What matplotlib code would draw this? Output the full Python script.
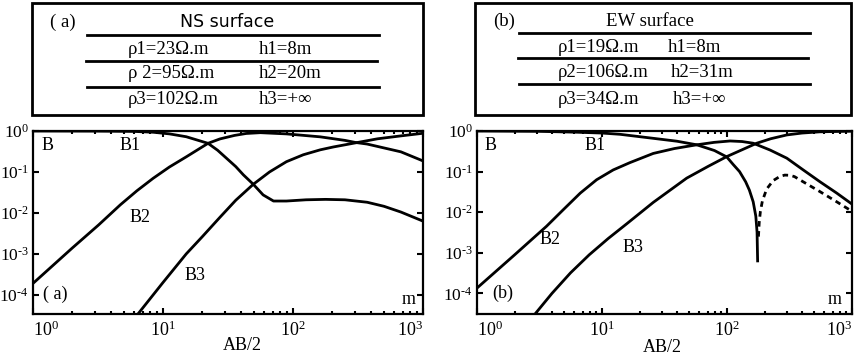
import matplotlib
matplotlib.use("Agg")
import matplotlib.pyplot as plt
from matplotlib.patches import Rectangle

plt.rcParams['font.family'] = ['Liberation Serif', 'DejaVu Serif']
plt.rcParams['mathtext.fontset'] = 'custom'
plt.rcParams['mathtext.rm'] = 'Liberation Serif'
plt.rcParams['mathtext.it'] = 'Liberation Serif:italic'

# ---------------- data ----------------
x_ticks = [1, 10, 100, 1000]
x_ticklabels = [r'$\mathrm{10^{0}}$', r'$\mathrm{10^{1}}$', r'$\mathrm{10^{2}}$', r'$\mathrm{10^{3}}$']
y_ticks = [1, 1e-1, 1e-2, 1e-3, 1e-4]
y_ticklabels = [r'$\mathrm{10^{0}}$', '$\\mathrm{10^{\u2010 1}}$', '$\\mathrm{10^{\u2010 2}}$',
                '$\\mathrm{10^{\u2010 3}}$', '$\\mathrm{10^{\u2010 4}}$']

# (a) NS surface
a_B1_x = [1, 3.16, 6.0, 8.4, 11.2, 15.1, 22.2, 26.3, 30.9, 36.3, 41.5, 49.5, 58.9, 70.8,
          89, 126, 178, 251, 372, 501, 676, 1000]
a_B1_y = [1.0, 0.993, 0.977, 0.933, 0.851, 0.724, 0.50, 0.339, 0.214, 0.135, 0.0851, 0.050,
          0.0275, 0.0195, 0.0195, 0.0209, 0.0214, 0.0209, 0.0182, 0.0145, 0.0105, 0.0063]
a_B2_x = [1, 2, 3.2, 4.7, 6.3, 8.4, 11.2, 15.1, 22.2, 27.4, 35.5, 43.6, 56, 89, 162, 251,
          302, 372, 676, 1000]
a_B2_y = [1.9e-4, 1.38e-3, 5.1e-3, 0.0158, 0.0347, 0.070, 0.132, 0.234, 0.50, 0.64, 0.78,
          0.87, 0.91, 0.85, 0.72, 0.59, 0.525, 0.48, 0.31, 0.186]
a_B3_x = [6.0, 10, 15.1, 20, 27.4, 36.3, 49.5, 66, 89, 120, 162, 204, 302, 447, 676, 1000]
a_B3_y = [2.6e-5, 2.0e-4, 1.0e-3, 2.6e-3, 7.8e-3, 0.0204, 0.050, 0.10, 0.178, 0.263, 0.347,
          0.407, 0.513, 0.645, 0.76, 0.88]

# (b) EW surface
b_B1_x = [1, 3.16, 6.3, 10, 13.9, 25.7, 39.8, 57.3, 79.4, 99.5, 112, 126, 141, 151, 162,
          170, 174, 175.8]
b_B1_y = [1.0, 0.98, 0.933, 0.89, 0.83, 0.66, 0.56, 0.457, 0.33, 0.23, 0.15, 0.10, 0.056,
          0.035, 0.018, 0.008, 0.0032, 0.00063]
b_B1neg_x = [178.5, 181, 185, 192, 207.5, 234, 265, 290, 320, 347, 407, 555, 755, 1000]
b_B1neg_y = [0.0025, 0.0055, 0.0105, 0.019, 0.037, 0.060, 0.076, 0.082, 0.081, 0.075,
             0.056, 0.032, 0.018, 0.0105]
b_B2_x = [1, 2, 3.6, 4.9, 6.7, 9.06, 12.3, 16.7, 25.7, 38, 57.3, 79, 106, 132, 162, 221,
          301, 407, 555, 755, 1000]
b_B2_y = [1.35e-4, 8.9e-4, 4.5e-3, 0.0115, 0.0295, 0.063, 0.11, 0.166, 0.28, 0.37, 0.457,
          0.525, 0.568, 0.55, 0.50, 0.34, 0.214, 0.11, 0.056, 0.0295, 0.0158]
b_B3_x = [2.75, 3.98, 5.6, 7.9, 11.2, 15.8, 25.7, 47.6, 70.8, 99.5, 173, 224, 301, 398,
          555, 1000]
b_B3_y = [2.5e-5, 1e-4, 3.2e-4, 8.9e-4, 2.24e-3, 5.2e-3, 0.0174, 0.069, 0.135, 0.234, 0.50,
          0.645, 0.80, 0.89, 0.955, 0.99]

# ---------------- figure ----------------
W, H = 858, 356
fig = plt.figure(figsize=(W / 100, H / 100), dpi=100)

# overlay in pixel coordinates for the tables and annotations
ov = fig.add_axes([0, 0, 1, 1], zorder=0)
ov.set_xlim(0, W)
ov.set_ylim(H, 0)
ov.axis('off')


def px_axes(x0, x1, y0, y1):
    return fig.add_axes([x0 / W, (H - y1) / H, (x1 - x0) / W, (y1 - y0) / H], zorder=2)


LW = 2.0


def style_axes(ax, ylow):
    ax.set_xscale('log')
    ax.set_yscale('log')
    ax.set_xlim(1, 1000)
    ax.set_ylim(ylow, 1.0)
    ax.set_xticks(x_ticks)
    ax.set_xticklabels(x_ticklabels, fontsize=13)
    labs = ax.get_xticklabels()
    labs[0].set_ha('left')
    labs[-1].set_ha('right')
    ax.set_yticks(y_ticks)
    ax.set_yticklabels(y_ticklabels, fontsize=12.5)
    ax.yaxis.set_minor_locator(matplotlib.ticker.NullLocator())
    ax.tick_params(which='major', direction='in', length=4, width=1.5,
                   top=True, right=True)
    ax.tick_params(axis='x', which='major', pad=5)
    ax.tick_params(axis='y', which='major', pad=3)
    ax.tick_params(axis='x', which='minor', direction='in', length=2.5, width=1.5,
                   top=True, bottom=True)
    for s in ax.spines.values():
        s.set_linewidth(1.6)
    ax.patch.set_alpha(0)


axA = px_axes(33, 423, 131, 314)
axA.plot(a_B1_x, a_B1_y, color='black', lw=LW)
axA.plot(a_B2_x, a_B2_y, color='black', lw=LW)
axA.plot(a_B3_x, a_B3_y, color='black', lw=LW)
style_axes(axA, 3.4e-5)

axB = px_axes(477, 852, 131, 314)
axB.plot(b_B1_x, b_B1_y, color='black', lw=LW)
axB.plot(b_B1neg_x, b_B1neg_y, color='black', lw=LW, linestyle=(0, (2.0, 1.6)))
axB.plot(b_B2_x, b_B2_y, color='black', lw=LW)
axB.plot(b_B3_x, b_B3_y, color='black', lw=LW)
style_axes(axB, 3.1e-5)

# ---------------- tables ----------------
FS = 13.5
ov.add_patch(Rectangle((32, 3), 391, 112, fill=False, lw=2.0, ec='black'))
ov.text(50, 22, '( a)', fontsize=FS, ha='left', va='center')
ov.text(227, 22, 'NS surface', fontsize=12.5, ha='center', va='center', family='DejaVu Sans')
for yy, xa, xb in [(35, 87, 379), (60.7, 86, 377), (86.7, 87, 379)]:
    ov.plot([xa, xb], [yy, yy], color='black', lw=2.0)
ov.text(128, 49, 'ρ1=23Ω.m', fontsize=FS, ha='left', va='center')
ov.text(259, 49, 'h1=8m', fontsize=FS, ha='left', va='center')
ov.text(128, 74, 'ρ 2=95Ω.m', fontsize=FS, ha='left', va='center')
ov.text(259, 74, 'h2=20m', fontsize=FS, ha='left', va='center')
ov.text(128, 100, 'ρ3=102Ω.m', fontsize=FS, ha='left', va='center')
ov.text(259, 100, 'h3=+∞', fontsize=FS, ha='left', va='center')

ov.add_patch(Rectangle((475, 3), 376, 112, fill=False, lw=2.0, ec='black'))
ov.text(493, 21, '(b)', fontsize=FS, ha='left', va='center')
ov.text(650, 21, 'EW surface', fontsize=FS, ha='center', va='center')
for yy, xa, xb in [(33.3, 519, 810), (58.3, 518, 808), (84, 519, 810)]:
    ov.plot([xa, xb], [yy, yy], color='black', lw=2.0)
ov.text(558, 47.7, 'ρ1=19Ω.m', fontsize=FS, ha='left', va='center')
ov.text(668, 47.7, 'h1=8m', fontsize=FS, ha='left', va='center')
ov.text(558, 72.3, 'ρ2=106Ω.m', fontsize=FS, ha='left', va='center')
ov.text(671, 72.3, 'h2=31m', fontsize=FS, ha='left', va='center')
ov.text(558, 99.3, 'ρ3=34Ω.m', fontsize=FS, ha='left', va='center')
ov.text(673, 99.3, 'h3=+∞', fontsize=FS, ha='left', va='center')

# ---------------- in-plot annotations ----------------
ann = [
    (42, 145, 'B'), (120, 145, 'B1'), (130, 217, 'B2'), (185, 275, 'B3'),
    (43, 294, '( a)'), (402, 299, 'm'),
    (485, 145, 'B'), (585, 145, 'B1'), (540, 240, 'B2'), (623, 247, 'B3'),
    (492, 293, '(b)'), (828, 299, 'm'),
]
for x, y, s in ann:
    ov.text(x, y, s, fontsize=13, ha='left', va='center', zorder=5)
ov.text(242, 345, 'AB/2', fontsize=13, ha='center', va='center')
ov.text(662, 347, 'AB/2', fontsize=13, ha='center', va='center')

fig.savefig('out.png', dpi=100)
